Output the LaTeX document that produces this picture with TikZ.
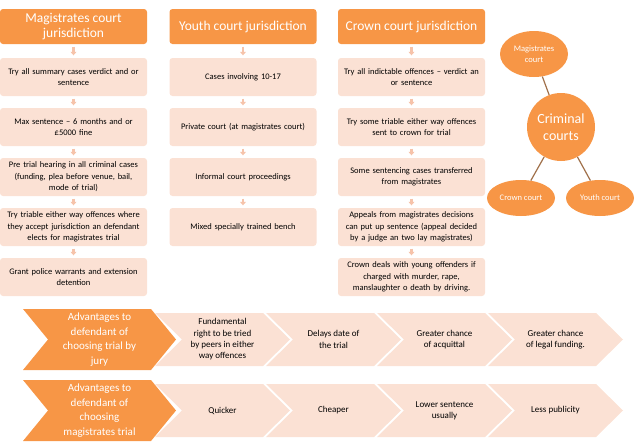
\documentclass[tikz,border=0pt]{standalone}
\usepackage{fontspec}
\setmainfont{Carlito}
\usepackage{tikz}
\usepackage{xcolor}
\usetikzlibrary{arrows.meta,shapes.geometric}

\definecolor{courtorange}{HTML}{F79646}
\definecolor{peach}{HTML}{FBE1D4}
\definecolor{peachdark}{HTML}{F6C3AA}
\definecolor{linkbrown}{HTML}{A0704A}

\begin{document}
\begin{tikzpicture}[x=1pt,y=-1pt,
  hdr/.style={fill=courtorange,rounded corners=3pt,text=white,font=\fontsize{13.5}{14.5}\selectfont,
    minimum width=147pt,minimum height=35pt,align=center,inner sep=1pt},
  item/.style={fill=peach,rounded corners=3pt,font=\fontsize{8.5}{11.5}\selectfont,
    minimum width=147pt,minimum height=38pt,text width=142pt,align=center,inner sep=0pt},
  down/.style={draw=peachdark,line width=2.6pt,-{Triangle[width=6pt,length=3.5pt]},
    shorten <=2.5pt,shorten >=2.5pt},
  court/.style={ellipse,fill=courtorange,text=white,inner sep=0pt,align=center,
    font=\fontsize{8.5}{10.5}\selectfont,minimum width=68pt,minimum height=36pt},
  spoke/.style={draw=linkbrown,line width=1.2pt},
  lead/.style={text=white,align=center,font=\fontsize{11}{14.5}\selectfont},
  point/.style={align=center,font=\fontsize{9}{11.3}\selectfont}]
\useasboundingbox (0,0) rectangle (638,442);

% magistrates column
\node[hdr] (mh) at (73.5,26.5) {Magistrates court\\jurisdiction};
\node[item] (m1) at (73.5,77) {Try all summary cases verdict and or\\sentence};
\node[item] (m2) at (73.5,127) {Max sentence -- 6 months and or\\\pounds5000 fine};
\node[item] (m3) at (73.5,177) {Pre trial hearing in all criminal cases\\(funding, plea before venue, bail,\\mode of trial)};
\node[item] (m4) at (73.5,227) {Try triable either way offences where\\they accept jurisdiction an defendant\\elects for magistrates trial};
\node[item] (m5) at (73.5,277) {Grant police warrants and extension\\detention};
\draw[down] (mh) -- (m1);
\draw[down] (m1) -- (m2);
\draw[down] (m2) -- (m3);
\draw[down] (m3) -- (m4);
\draw[down] (m4) -- (m5);

% youth column
\node[hdr] (yh) at (243,26.5) {Youth court jurisdiction};
\node[item] (y1) at (243,77) {Cases involving 10-17};
\node[item] (y2) at (243,127) {Private court (at magistrates court)};
\node[item] (y3) at (243,177) {Informal court proceedings};
\node[item] (y4) at (243,227) {Mixed specially trained bench};
\draw[down] (yh) -- (y1);
\draw[down] (y1) -- (y2);
\draw[down] (y2) -- (y3);
\draw[down] (y3) -- (y4);

% crown column
\node[hdr] (ch) at (411.5,26.5) {Crown court jurisdiction};
\node[item] (c1) at (411.5,77) {Try all indictable offences -- verdict an\\or sentence};
\node[item] (c2) at (411.5,127) {Try some triable either way offences\\sent to crown for trial};
\node[item] (c3) at (411.5,177) {Some sentencing cases transferred\\from magistrates};
\node[item] (c4) at (411.5,227) {Appeals from magistrates decisions\\can put up sentence (appeal decided\\by a judge an two lay magistrates)};
\node[item] (c5) at (411.5,277) {Crown deals with young offenders if\\charged with murder, rape,\\manslaughter o death by driving.};
\draw[down] (ch) -- (c1);
\draw[down] (c1) -- (c2);
\draw[down] (c2) -- (c3);
\draw[down] (c3) -- (c4);
\draw[down] (c4) -- (c5);

% criminal courts
\node[court,minimum width=68pt,minimum height=46pt] (magc) at (534,54) {Magistrates\\court};
\node[court,circle,minimum size=68pt,font=\fontsize{14}{17}\selectfont] (crim) at (561,127) {Criminal\\courts};
\node[court] (crownc) at (521,198) {Crown court};
\node[court] (youthc) at (600,198) {Youth court};
\draw[spoke] (crim) -- (magc);
\draw[spoke] (crim) -- (crownc);
\draw[spoke] (crim) -- (youthc);

% trial by jury row
\fill[courtorange] (23,309) -- (151,309) -- (176,339.5) -- (151,370) -- (23,370) -- (48,339.5) -- cycle;
\node[lead] (jury) at (99.5,339.5) {Advantages to\\defendant of\\choosing trial by\\jury};
\fill[peach] (155,313) -- (263,313) -- (290,339.5) -- (263,366) -- (155,366) -- (182,339.5) -- cycle;
\node[point] (j1) at (222.5,339.5) {Fundamental\\right to be tried\\by peers in either\\way offences};
\fill[peach] (266,313) -- (374,313) -- (401,339.5) -- (374,366) -- (266,366) -- (293,339.5) -- cycle;
\node[point] (j2) at (333.5,339.5) {Delays date of\\the trial};
\fill[peach] (377,313) -- (485,313) -- (512,339.5) -- (485,366) -- (377,366) -- (404,339.5) -- cycle;
\node[point] (j3) at (444.5,339.5) {Greater chance\\of acquittal};
\fill[peach] (488,313) -- (596,313) -- (623,339.5) -- (596,366) -- (488,366) -- (515,339.5) -- cycle;
\node[point] (j4) at (555.5,339.5) {Greater chance\\of legal funding.};

% magistrates trial row
\fill[courtorange] (23,380) -- (151,380) -- (176,410.5) -- (151,441) -- (23,441) -- (48,410.5) -- cycle;
\node[lead] (magt) at (99.5,410.5) {Advantages to\\defendant of\\choosing\\magistrates trial};
\fill[peach] (155,384) -- (263,384) -- (290,410.5) -- (263,437) -- (155,437) -- (182,410.5) -- cycle;
\node[point] (t1) at (222.5,410.5) {Quicker};
\fill[peach] (266,384) -- (374,384) -- (401,410.5) -- (374,437) -- (266,437) -- (293,410.5) -- cycle;
\node[point] (t2) at (333.5,410.5) {Cheaper};
\fill[peach] (377,384) -- (485,384) -- (512,410.5) -- (485,437) -- (377,437) -- (404,410.5) -- cycle;
\node[point] (t3) at (444.5,410.5) {Lower sentence\\usually};
\fill[peach] (488,384) -- (596,384) -- (623,410.5) -- (596,437) -- (488,437) -- (515,410.5) -- cycle;
\node[point] (t4) at (555.5,410.5) {Less publicity};
\end{tikzpicture}
\end{document}
